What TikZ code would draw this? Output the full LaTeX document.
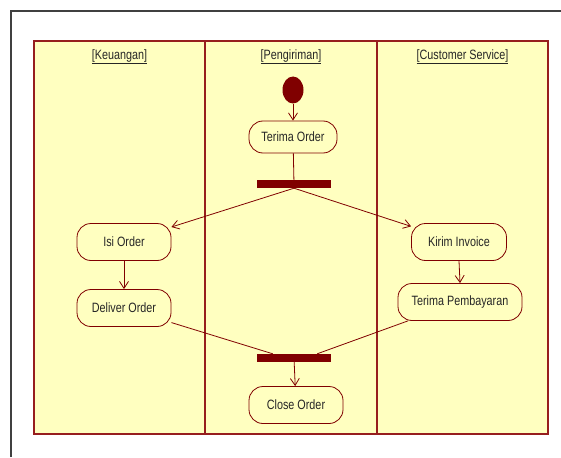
\documentclass[tikz,border=0pt]{standalone}
\usepackage{fontspec}
\setmainfont{Liberation Sans}[FakeStretch=0.8]
\usetikzlibrary{arrows.meta,shapes.geometric}

\definecolor{laneyellow}{RGB}{255,255,192}
\definecolor{darkred}{RGB}{128,0,0}
\definecolor{laneborder}{RGB}{150,30,30}

\begin{document}
\begin{tikzpicture}[x=1pt,y=-1pt,>={Straight Barb[length=7pt,width=9pt]},
  font=\fontsize{13.5}{15}\selectfont,
  lane/.style={draw=laneborder,fill=laneyellow,line width=1.3pt},
  lane title/.style={text=black!85},
  start node/.style={ellipse,fill=darkred,minimum width=21pt,minimum height=27pt,inner sep=0pt},
  act node/.style={draw=darkred,fill=laneyellow,rounded corners=14pt,minimum height=37pt,inner sep=0pt,line width=0.8pt,text=black!85},
  bar node/.style={fill=darkred,minimum width=74pt,minimum height=8pt,inner sep=0pt}]

  \useasboundingbox (0,0) rectangle (561,457);

  % frame
  \draw[black!75,line width=1.8pt] (11,457) -- (11,11) -- (561,11);

  % swimlanes
  \path[lane] (34,41) rectangle (205,434);
  \path[lane] (205,41) rectangle (377,434);
  \path[lane] (377,41) rectangle (548,434);
  \node[lane title] (keu) at (119.5,57) {\underline{[Keuangan]}};
  \node[lane title] (kirimlane) at (291,57) {\underline{[Pengiriman]}};
  \node[lane title] (cs) at (462.5,57) {\underline{[Customer Service]}};

  % activities
  \node[start node] (start) at (293,90) {};
  \node[act node,minimum width=88pt,minimum height=32pt] (terima) at (293,137) {Terima Order};
  \node[bar node] (fork) at (294,184) {};
  \node[act node,minimum width=94pt] (isi) at (124,242) {Isi Order};
  \node[act node,minimum width=94pt] (deliver) at (124,308) {Deliver Order};
  \node[act node,minimum width=95pt] (invoice) at (459,242) {Kirim Invoice};
  \node[act node,minimum width=124pt] (bayar) at (460,302) {Terima Pembayaran};
  \node[bar node] (join) at (294,358) {};
  \node[act node,minimum width=94pt] (close) at (296,405) {Close Order};

  \path[->,every edge/.append style={draw=darkred,line width=0.8pt}]
    (start) edge (terima)
    (terima) edge[-] (fork)
    (fork.south) edge (isi)
    (fork.south) edge (invoice)
    (isi) edge (deliver)
    (invoice.south) edge (bayar.north)
    (deliver) edge[-] ([xshift=16pt]join.north west)
    (bayar) edge[-] ([xshift=-14pt]join.north east)
    (join) edge (close);

\end{tikzpicture}
\end{document}
